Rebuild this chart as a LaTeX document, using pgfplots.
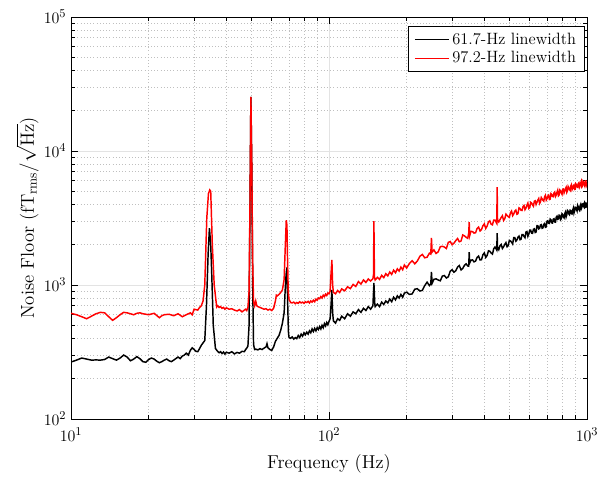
\documentclass[border=0pt]{standalone}
\usepackage{pgfplots}
\pgfplotsset{compat=1.18}
\begin{document}
\begin{tikzpicture}
\useasboundingbox (-53.25pt,-45pt) rectangle (396.75pt,314.25pt);
\begin{axis}[
 xmode=log, ymode=log,
 xmin=10, xmax=1000, ymin=100, ymax=100000,
 scale only axis, width=387pt, height=301.5pt,
 at={(0pt,0pt)}, anchor=south west,
 grid=both,
 major grid style={gray!22, line width=0.5pt},
 minor grid style={gray!50, dotted, line width=0.5pt},
 tick align=inside,
 xtick pos=both, ytick pos=both,
 major tick length=5pt, minor tick length=2.8pt,
 tick style={black, line width=0.5pt},
 axis line style={black, line width=0.6pt},
 xlabel={Frequency (Hz)},
 ylabel={Noise Floor (fT$_{\mathrm{rms}}/\sqrt{\mathrm{Hz}}$)},
 label style={font=\fontsize{14}{16}\selectfont},
 tick label style={font=\fontsize{12.5}{14}\selectfont},
 xticklabel style={yshift=-3pt},
 xlabel shift=3pt,
 ylabel shift=-3pt,
 legend style={at={(0.996,0.978)}, anchor=north east, font=\fontsize{12.3}{14}\selectfont, draw=black, line width=0.5pt, inner xsep=4.5pt, inner ysep=3pt, row sep=0pt},
 legend cell align=left,
 legend image code/.code={\draw[#1] (0cm,0cm) -- (0.9cm,0cm);},
]
\addplot[black, line width=1.1pt] table[x=f, y=v] {
f v
10 266
10.5 275
11 285
11.5 280
12 275
12.5 276
13 275
13.5 278
14 290
14.5 282
15 275
15.5 285
16 300
16.5 290
17 272
17.5 280
18 292
18.5 282
19 268
19.5 265
20 278
20.5 285
21 280
21.5 270
22 263
22.5 268
23 275
23.5 280
24 272
24.5 268
25 275
26 290
26.5 282
27 295
27.5 300
28 310
28.5 300
29 325
29.5 340
30 330
30.5 320
31 318
31.5 335
32 355
32.5 370
33 385
33.5 700
34 1700
34.4 2660
34.8 2000
35.1 1250
35.6 500
36.3 336
37 320
37.5 312
38 318
38.5 308
39 316
39.5 305
40 315
41 310
42 318
43 306
44 314
45 310
46 320
47 318
47.5 330
48 338
48.5 350
49 500
49.4 4000
49.8 25300
50.2 8000
50.6 1000
51 360
51.5 330
52 332
53 328
54 335
55 330
56 338
57 345
57.5 365
58 340
59 330
60 325
61 345
62 380
63 400
64 420
65 460
66 520
67 620
67.6 900
68.2 1200
68.7 1350
69.2 700
69.6 450
70 405
71 400
72 410
73 395
74 405
75 398
76 420
77 405
78 430
79 415
80 440
81 425
82 445
83 430
84 455
85 440
86 470
87 450
88 475
89 455
90 480
91 465
92 490
93 470
94 500
95 480
96 515
97 495
98 525
99 505
100 535
101 560
101.8 700
102.6 918
103.3 620
104 540
106 520
108 560
110 545
112 585
115 560
118 610
121 585
124 630
127 610
130 655
133 625
136 670
139 645
142 690
145 660
148 700
149.3 1035
150.5 720
151 690
154 720
157 690
160 745
163 715
166 760
169 735
172 785
175 750
178 810
181 775
184 830
187 800
190 850
193 810
196 870
200 884
205 850
210 858
215 930
220 938
225 902
230 912
235 990
240 1050
245 989
248 1020
249.5 1250
251 1030
255 1102
260 1112
265 1089
270 1075
275 1165
280 1177
285 1128
290 1150
295 1267
300 1300
305 1245
310 1277
315 1362
320 1397
325 1296
330 1329
335 1404
340 1438
345 1387
348 1382
349.5 1760
351 1460
355 1531
360 1540
365 1488
370 1509
375 1607
380 1643
385 1538
390 1544
395 1681
400 1737
405 1606
410 1659
415 1799
420 1785
425 1735
430 1701
435 1864
440 1922
447 1823
448.5 2440
450 1900
455 1833
460 1967
465 2007
470 1872
475 1931
480 2010
485 2070
490 1929
495 1968
500 2153
505 2132
510 2089
515 2024
520 2258
525 2257
530 2124
535 2166
540 2275
545 2318
550 2179
555 2198
560 2379
565 2377
570 2303
575 2252
580 2486
585 2506
590 2309
595 2401
600 2569
605 2565
610 2435
615 2431
620 2606
625 2627
630 2465
635 2487
640 2772
645 2766
650 2626
655 2646
660 2802
665 2822
670 2650
675 2669
680 2828
685 2876
690 2698
695 2717
700 2995
705 3016
710 2891
715 2881
720 3108
725 3069
730 2910
735 2899
740 3101
745 3121
750 2957
755 2945
760 3214
765 3264
770 3092
775 3112
780 3323
785 3308
790 3069
795 3120
800 3401
805 3356
810 3211
815 3164
820 3417
825 3505
830 3221
835 3342
840 3602
845 3554
850 3401
855 3350
860 3615
865 3599
870 3403
875 3387
880 3621
885 3746
890 3439
895 3567
900 3806
905 3790
910 3663
915 3571
920 3927
925 3835
930 3667
935 3610
940 3896
945 3994
950 3706
955 3802
960 4017
965 4038
970 3861
975 3800
980 4134
985 4072
990 3810
995 3829
1000 4131
};
\addlegendentry{61.7-Hz linewidth}
\addplot[red, line width=1.1pt] table[x=f, y=v] {
f v
10 615
10.5 600
11 580
11.5 560
12 585
12.5 610
13 625
13.5 620
14 580
14.5 545
15 570
15.5 600
16 625
16.5 620
17 610
17.5 600
18 615
18.5 620
19 610
20 600
21 615
22 570
22.5 590
23 600
24 605
25 590
26 610
27 580
28 600
29 620
29.5 600
30 660
31 650
31.5 680
32 700
32.5 760
33 1000
33.6 3160
34.1 4800
34.5 5120
34.8 5000
35.3 2000
35.9 1000
36.7 686
37 700
37.5 680
38 690
38.5 670
39 680
39.5 660
40 675
41 660
42 665
43 650
44 640
45 655
46 630
47 650
47.5 660
48 645
48.5 680
49 900
49.4 4000
49.8 25300
50.2 8000
50.6 1500
51 750
51.5 700
52 760
52.5 700
53 690
54 680
55 670
56 660
57 665
58 650
59 660
60 645
61 670
62 760
62.5 840
63 830
64 850
65 880
66 920
67 1100
67.6 1800
68.3 3050
68.7 2800
69.1 1500
69.5 900
70 780
71 740
72 735
73 745
74 725
75 740
76 730
77 750
78 735
79 745
80 730
81 750
82 740
83 755
84 735
85 760
86 745
87 770
88 750
89 785
90 770
91 800
92 790
93 820
94 800
95 840
96 820
97 855
98 835
99 870
100 860
101 900
101.8 1200
102.6 1540
103.3 1000
104 880
106 860
108 910
110 880
112 935
115 905
118 970
121 940
124 1010
127 975
130 1060
133 1015
136 1090
139 1045
142 1110
145 1070
148 1115
148.8 1200
149.3 3000
150 1150
151 1090
154 1140
157 1100
160 1180
163 1135
166 1215
169 1170
172 1250
175 1200
178 1290
181 1235
184 1320
187 1270
190 1360
193 1300
196 1410
200 1339
205 1448
210 1518
215 1440
220 1509
225 1638
230 1691
235 1596
240 1613
245 1727
248 1700
249.5 2245
251 1760
255 1828
260 1720
265 1768
270 1931
275 1946
280 1921
285 1872
290 2080
295 2111
300 1998
305 2050
310 2146
315 2223
320 2102
325 2131
330 2363
335 2328
340 2269
345 2231
348 2441
349.5 2950
351 2330
355 2515
360 2504
365 2442
370 2454
375 2642
380 2704
385 2532
390 2595
395 2766
400 2860
405 2641
410 2754
415 2954
420 3014
425 2842
430 2813
435 3049
440 3050
447 2879
448.5 5380
450 3060
455 2955
460 3074
465 3195
470 3286
475 3030
480 3123
485 3378
490 3308
495 3236
500 3197
505 3463
510 3565
515 3291
520 3391
525 3560
530 3626
535 3374
540 3406
545 3763
550 3723
555 3606
560 3599
565 3852
570 3921
575 3648
580 3753
585 3937
590 4085
595 3724
600 3792
605 4139
610 4090
615 3959
620 3867
625 4223
630 4254
635 3994
640 4148
645 4304
650 4420
655 4061
660 4171
665 4498
670 4394
675 4288
680 4224
685 4558
690 4673
695 4296
700 4410
705 4616
710 4687
715 4346
720 4370
725 4810
730 4743
735 4582
740 4559
745 4867
750 4940
755 4584
760 4704
765 4922
770 5093
775 4631
780 4704
785 5122
790 5049
795 4876
800 4750
805 5176
810 5202
815 4872
820 5049
825 5228
830 5356
835 4916
840 5044
845 5434
850 5303
855 5165
860 5078
865 5469
870 5597
875 5136
880 5263
885 5498
890 5572
895 5159
900 5178
905 5689
910 5600
915 5400
920 5364
925 5717
930 5793
935 5366
940 5498
945 5743
950 5933
955 5387
960 5462
965 5938
970 5845
975 5635
980 5482
985 5964
990 5984
995 5597
1000 5792
};
\addlegendentry{97.2-Hz linewidth}
\end{axis}
\end{tikzpicture}
\end{document}
